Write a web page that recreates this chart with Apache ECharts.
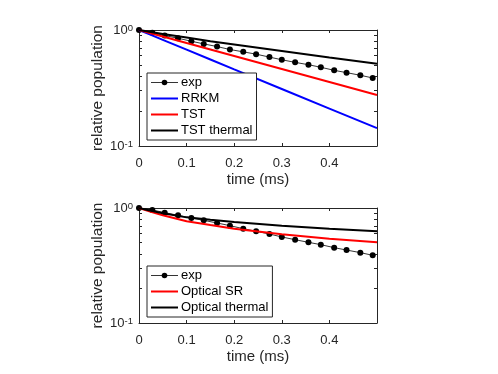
<!DOCTYPE html>
<html>
<head>
<meta charset="utf-8">
<script src="https://cdn.jsdelivr.net/npm/echarts@6/dist/echarts.min.js"></script>
<style>html,body{margin:0;padding:0;background:#fff}#c{width:498px;height:374px}</style>
</head>
<body>
<div id="c"></div>
<script>
// ---- data ----
const expTime = [0, 0.028, 0.054, 0.082, 0.110, 0.136, 0.164, 0.191, 0.219, 0.246, 0.274, 0.300, 0.328, 0.356, 0.382, 0.410, 0.436, 0.465, 0.491];
const expTop = [1.000, 0.949, 0.895, 0.849, 0.800, 0.759, 0.720, 0.679, 0.648, 0.619, 0.584, 0.554, 0.526, 0.502, 0.477, 0.449, 0.429, 0.407, 0.386];
const expBottom = [1.000, 0.961, 0.911, 0.864, 0.818, 0.781, 0.741, 0.702, 0.661, 0.627, 0.594, 0.560, 0.530, 0.503, 0.480, 0.452, 0.431, 0.409, 0.388];
const modelTime = [0, 0.025, 0.05, 0.1, 0.15, 0.2, 0.3, 0.4, 0.5];
const rrkm = [1, 0.907, 0.823, 0.677, 0.557, 0.458, 0.310, 0.210, 0.1425];
const tst = [1, 0.937, 0.879, 0.772, 0.679, 0.597, 0.461, 0.356, 0.275];
const tstThermal = [1, 0.962, 0.925, 0.860, 0.800, 0.750, 0.660, 0.580, 0.512];
const opticalSR = [1, 0.925, 0.864, 0.766, 0.710, 0.661, 0.590, 0.541, 0.503];
const opticalThermal = [1, 0.945, 0.899, 0.829, 0.790, 0.756, 0.702, 0.661, 0.627];
const xTicks = [0, 0.1, 0.2, 0.3, 0.4];
const yMinorTicks = [0.1, 0.2, 0.3, 0.4, 0.5, 0.6, 0.7, 0.8, 0.9, 1];
const yLabelTicks = [0.1, 1];
const legendTop = ['exp', 'RRKM', 'TST', 'TST thermal'];
const legendBottom = ['exp', 'Optical SR', 'Optical thermal'];

const pairs = (xs, ys) => xs.map((x, i) => [x, ys[i]]);
const AX = '#262626';
const FONT = 'Liberation Sans, Arial, Helvetica, sans-serif';

function xAxes(gi) {
  return [{
    type: 'value', gridIndex: gi, min: 0, max: 0.5, interval: 0.1,
    name: 'time (ms)', nameLocation: 'middle', nameGap: 26,
    nameTextStyle: { color: AX, fontSize: 15, fontFamily: FONT },
    axisLine: { show: true, onZero: false, lineStyle: { color: AX, width: 1 } },
    axisTick: { show: true, inside: true, length: 3, lineStyle: { color: AX }, customValues: xTicks },
    axisLabel: { show: true, color: AX, fontSize: 13, fontFamily: FONT, margin: 11, customValues: xTicks },
    splitLine: { show: false }
  }, {
    type: 'value', gridIndex: gi, position: 'top', min: 0, max: 0.5, interval: 0.1,
    axisLine: { show: true, onZero: false, lineStyle: { color: AX, width: 1 } },
    axisTick: { show: true, inside: true, length: 3, lineStyle: { color: AX }, customValues: xTicks },
    axisLabel: { show: false }, splitLine: { show: false }
  }];
}
function yAxes(gi) {
  return [{
    type: 'log', logBase: 10, gridIndex: gi, min: 0.1, max: 1,
    name: 'relative population', nameLocation: 'middle', nameGap: 33,
    nameTextStyle: { color: AX, fontSize: 15.5, fontFamily: FONT },
    axisLine: { show: true, onZero: false, lineStyle: { color: AX, width: 1 } },
    axisTick: { show: true, inside: true, length: 3, lineStyle: { color: AX }, customValues: yMinorTicks },
    axisLabel: {
      show: true, color: AX, fontSize: 13, fontFamily: FONT, margin: 6,
      customValues: yLabelTicks,
      formatter: v => (v >= 0.99 ? '{b|10}{s|0}' : '{b|10}{s|-1}'),
      rich: {
        b: { fontSize: 13, lineHeight: 13, color: AX, fontFamily: FONT, verticalAlign: 'bottom' },
        s: { fontSize: 9.5, lineHeight: 10, color: AX, fontFamily: FONT, verticalAlign: 'top', padding: [0, 0, 7, 0] }
      }
    },
    splitLine: { show: false }
  }, {
    type: 'log', logBase: 10, gridIndex: gi, position: 'right', min: 0.1, max: 1,
    axisLine: { show: true, onZero: false, lineStyle: { color: AX, width: 1 } },
    axisTick: { show: true, inside: true, length: 3, lineStyle: { color: AX }, customValues: yMinorTicks },
    axisLabel: { show: false }, splitLine: { show: false }
  }];
}

function expSeries(xi, yi, ys) {
  return {
    name: 'exp', type: 'line', xAxisIndex: xi, yAxisIndex: yi,
    data: pairs(expTime, ys), symbol: 'circle', symbolSize: 6, showSymbol: true,
    lineStyle: { color: '#000', width: 0.8 }, itemStyle: { color: '#000' },
    emphasis: { disabled: true }, z: 2
  };
}
function modelSeries(name, xi, yi, ys, color) {
  return {
    name, type: 'line', xAxisIndex: xi, yAxisIndex: yi,
    data: pairs(modelTime, ys), symbol: 'none', smooth: false,
    lineStyle: { color, width: 2 }, itemStyle: { color },
    emphasis: { disabled: true }, z: 3
  };
}
function legendItems(names) {
  return names.map(n => n === 'exp'
    ? { name: n, lineStyle: { width: 0.8, color: '#000' }, itemStyle: { color: '#000' } }
    : { name: n, itemStyle: { opacity: 0 } });
}

const legendCommon = {
  orient: 'vertical', itemWidth: 27, itemHeight: 7, itemGap: 3,
  textStyle: { color: '#000', fontSize: 13, fontFamily: FONT, padding: [0, 0, 0, -2] },
  borderColor: AX, borderWidth: 1, backgroundColor: '#fff',
  padding: [3, 4, 3, 3], selectedMode: false, z: 10
};

const chart = echarts.init(document.getElementById('c'), null, { renderer: 'canvas' });
chart.setOption({
  animation: false,
  backgroundColor: '#fff',
  grid: [
    { left: 139, top: 30, width: 238, height: 116 },
    { left: 139, top: 208, width: 238, height: 115 }
  ],
  xAxis: [...xAxes(0), ...xAxes(1)],
  yAxis: [...yAxes(0), ...yAxes(1)],
  legend: [
    Object.assign({ left: 147, top: 73, data: legendItems(legendTop) }, legendCommon),
    Object.assign({ left: 147, top: 266, data: legendItems(legendBottom) }, legendCommon)
  ],
  series: [
    expSeries(0, 0, expTop),
    modelSeries('RRKM', 0, 0, rrkm, '#0000ff'),
    modelSeries('TST', 0, 0, tst, '#ff0000'),
    modelSeries('TST thermal', 0, 0, tstThermal, '#000000'),
    expSeries(2, 2, expBottom),
    modelSeries('Optical SR', 2, 2, opticalSR, '#ff0000'),
    modelSeries('Optical thermal', 2, 2, opticalThermal, '#000000')
  ]
});
</script>
</body>
</html>
